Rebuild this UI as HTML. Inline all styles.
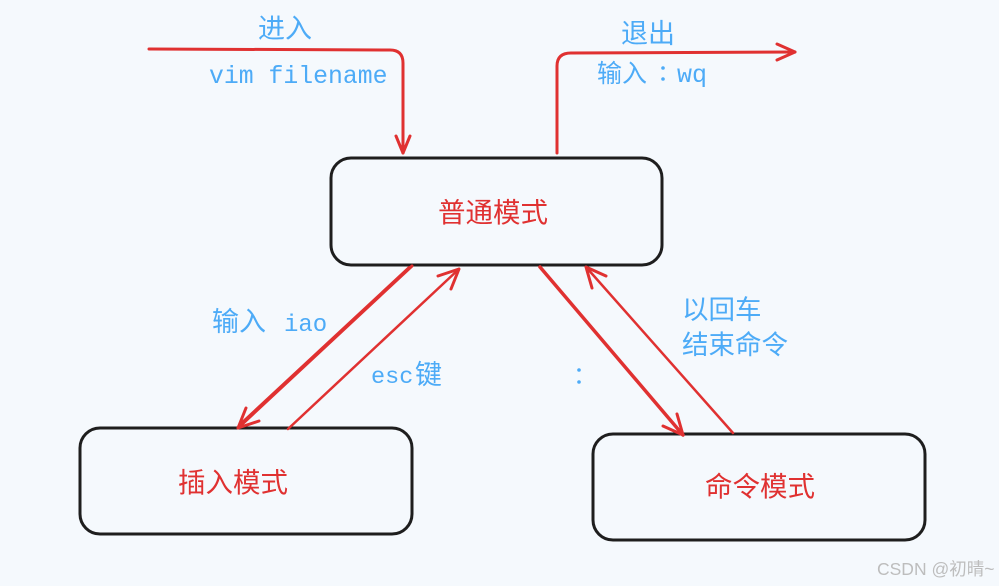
<!DOCTYPE html>
<html>
<head>
<meta charset="utf-8">
<style>
  html,body{margin:0;padding:0;background:#f5f9fd;}
  body{width:999px;height:586px;overflow:hidden;}
  svg{display:block;}
  .cjk{font-family:"Liberation Sans","Noto Sans CJK SC",sans-serif;}
  .mono{font-family:"Liberation Mono","Noto Sans CJK SC",monospace;}
</style>
</head>
<body>
<svg width="999" height="586" viewBox="0 0 999 586" xmlns="http://www.w3.org/2000/svg">
  <rect x="0" y="0" width="999" height="586" fill="#f5f9fd"/>

  <!-- boxes -->
  <g fill="none" stroke="#1e1e1e" stroke-width="3">
    <rect x="331" y="158" width="331" height="107" rx="20"/>
    <rect x="80" y="428" width="332" height="106" rx="20"/>
    <rect x="593" y="434" width="332" height="106" rx="20"/>
  </g>

  <!-- box labels -->
  <g class="cjk" fill="#e03131" font-size="27.5" text-anchor="middle">
    <text x="493" y="222">普通模式</text>
    <text x="233" y="492">插入模式</text>
    <text x="760" y="496">命令模式</text>
  </g>

  <!-- arrows -->
  <g fill="none" stroke="#e03131" stroke-width="3" stroke-linecap="round" stroke-linejoin="round">
    <!-- enter -->
    <path d="M149,49 L390,50 Q403,50 403,63 L403,153"/>
    <path d="M396,136 L403,153 L410,136"/>
    <!-- exit -->
    <path d="M557,153 L557,66 Q557,53 571,53 L795,52"/>
    <path d="M777,44 L795,52 L777,60"/>
    <!-- insert (down-left) -->
    <path d="M412,266 L238,428"/>
    <path d="M409,267 L240,424" stroke-width="2"/>
    <path d="M246,408 L238,428 L259,421"/>
    <!-- esc (up-right) -->
    <path d="M288,429 L459,269" stroke-width="2.5"/>
    <path d="M438,276 L459,269 L451,289"/>
    <!-- command (down-right) -->
    <path d="M540,267 L683,435" stroke-width="3.5"/>
    <path d="M663,426 L683,435 L677,414"/>
    <!-- return (up-left) -->
    <path d="M733,433 L586,267" stroke-width="2.5"/>
    <path d="M592,288 L586,267 L606,276"/>
  </g>

  <!-- blue labels -->
  <g fill="#4dabf7">
    <text class="cjk" x="258" y="38" font-size="27">进入</text>
    <text class="mono" x="209" y="83" font-size="24.8">vim filename</text>
    <text class="cjk" x="621" y="43" font-size="27">退出</text>
    <text class="cjk" x="597" y="82" font-size="25">输入</text>
    <circle cx="663" cy="68" r="1.8"/>
    <circle cx="663" cy="79" r="1.8"/>
    <text class="mono" x="677" y="82" font-size="25">wq</text>
    <text class="cjk" x="212" y="331" font-size="27">输入</text>
    <text class="mono" x="284" y="331" font-size="24">iao</text>
    <text class="mono" x="371" y="383" font-size="23.5">esc</text>
    <text class="cjk" x="415" y="384" font-size="27">键</text>
    <text class="cjk" x="682" y="319" font-size="26.5">以回车</text>
    <text class="cjk" x="682" y="354" font-size="26.5">结束命令</text>
    <circle cx="579" cy="370" r="1.8"/>
    <circle cx="579" cy="382" r="1.8"/>
  </g>

  <!-- watermark -->
  <text class="cjk" x="877" y="575" font-size="17.5" fill="#bdbdbd">CSDN @初晴~</text>
</svg>
</body>
</html>
